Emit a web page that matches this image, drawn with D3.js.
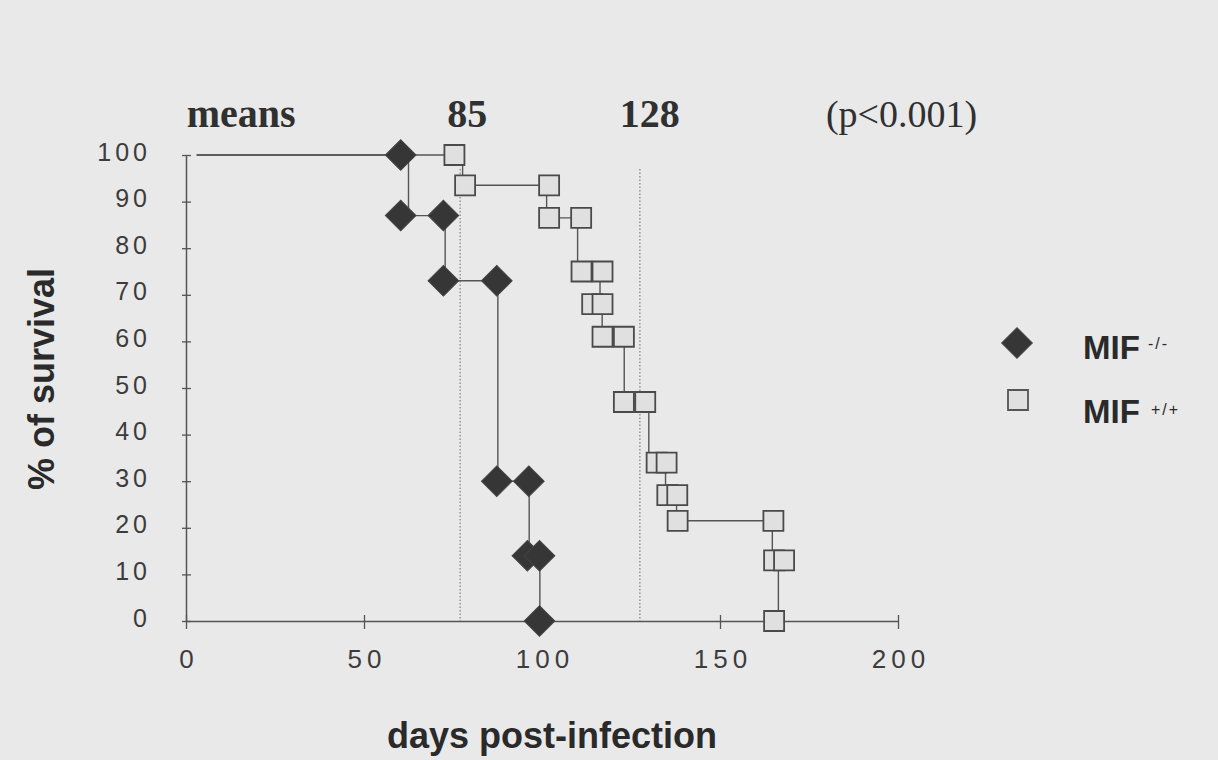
<!DOCTYPE html>
<html>
<head>
<meta charset="utf-8">
<script src="https://cdn.jsdelivr.net/npm/d3@7/dist/d3.min.js"></script>
<style>
  html, body { margin: 0; padding: 0; background: #e9e9e9; }
  svg { display: block; }
</style>
</head>
<body>
<svg id="chart" width="1218" height="760"></svg>
<script>
// ---------- data ----------
const xTicks = [0, 50, 100, 150, 200];
const yTicks = [0, 10, 20, 30, 40, 50, 60, 70, 80, 90, 100];

// MIF -/- (knock-out) : step curve vertices (day, % survival after step)
const koLineDays   = [3, 62.5, 72.8, 87.6, 96.4, 99.4];
const koLineValues = [100, 87, 73, 30, 14, 0];
// MIF -/- diamond markers
const koMarkDays   = [60.3, 60.3, 72.3, 72.3, 87.3, 87.3, 96.3, 95.9, 99.3, 99.3];
const koMarkValues = [100, 87, 87, 73, 73, 30, 30, 14, 14, 0];

// MIF +/+ (wild type) : step curve vertices
const wtLineDays   = [3, 77.7, 101.3, 110, 116.3, 116.9, 123.1, 130, 134.7, 137.8, 164.7, 166.4];
const wtLineValues = [100, 93.5, 86.5, 75, 68, 61, 47, 34, 27, 21.5, 13, 0];
// MIF +/+ square markers
const wtMarkDays   = [75.4, 78.4, 102, 102, 111, 111.1, 117, 114.1, 117, 117, 123, 123, 129, 132.2, 135, 135.2, 138, 138.1, 165, 165.2, 168, 165.2];
const wtMarkValues = [100, 93.5, 93.5, 86.5, 86.5, 75, 75, 68, 68, 61, 61, 47, 47, 34, 34, 27, 27, 21.5, 21.5, 13, 13, 0];

// dotted reference lines (day) and their top (% survival)
const meanLineDays = [77, 127.5];
const meanLineTop = 97;

// header texts
const headerTexts = ["means", "85", "128", "(p<0.001)"];
const legendNames = ["MIF", "MIF"];
const legendSups = ["-/-", "+/+"];
const xTitle = "days post-infection";
const yTitle = "% of survival";

// ---------- layout ----------
const svg = d3.select("#chart");
const x = d3.scaleLinear().domain([0, 200]).range([186, 898]);
const y = d3.scaleLinear().domain([0, 100]).range([621, 155]);

const axisColor = "#555";
const tickFont = "'Liberation Sans', Arial, sans-serif";

// y axis
const yAxisG = svg.append("g")
  .attr("transform", `translate(${x(0)},0)`)
  .call(d3.axisLeft(y).tickValues(yTicks).tickSizeOuter(0).tickSizeInner(4));
yAxisG.select(".domain").attr("stroke", axisColor).attr("stroke-width", 1.5);
yAxisG.selectAll(".tick line").attr("x1", -4).attr("x2", 5)
  .attr("stroke", axisColor).attr("stroke-width", 1.3);
yAxisG.selectAll(".tick text")
  .attr("x", -35).attr("dy", "0.2em")
  .attr("font-family", tickFont).attr("font-size", 25)
  .attr("letter-spacing", 4).attr("fill", "#3c3c3c");

// x axis
const xAxisG = svg.append("g")
  .attr("transform", `translate(0,${y(0)})`)
  .call(d3.axisBottom(x).tickValues(xTicks).tickSizeOuter(0).tickSizeInner(8));
xAxisG.select(".domain").attr("stroke", axisColor).attr("stroke-width", 1.5);
xAxisG.selectAll(".tick line").attr("y1", -6).attr("y2", 8)
  .attr("stroke", axisColor).attr("stroke-width", 1.3);
xAxisG.selectAll(".tick text")
  .attr("y", 29).attr("dy", "0.71em").attr("dx", 2.5)
  .attr("font-family", tickFont).attr("font-size", 26)
  .attr("letter-spacing", 5).attr("fill", "#3c3c3c");

// axis titles
svg.append("text")
  .attr("transform", `translate(54,${379}) rotate(-90)`)
  .attr("text-anchor", "middle")
  .attr("font-family", tickFont).attr("font-weight", "bold")
  .attr("font-size", 36).attr("fill", "#2a2a2a")
  .text(yTitle);
svg.append("text")
  .attr("x", 552).attr("y", 748)
  .attr("text-anchor", "middle")
  .attr("font-family", tickFont).attr("font-weight", "bold")
  .attr("font-size", 36).attr("fill", "#2a2a2a")
  .text(xTitle);

// header
const serif = "'Liberation Serif', 'Times New Roman', serif";
const headerPos = [
  {d: 0.2, anchor: "start", weight: "bold", size: 40},
  {d: 79, anchor: "middle", weight: "bold", size: 40},
  {d: 130.3, anchor: "middle", weight: "bold", size: 40},
  {d: 201, anchor: "middle", weight: "normal", size: 38}
];
svg.selectAll("text.header").data(headerTexts).join("text")
  .attr("class", "header")
  .attr("x", (t, i) => x(headerPos[i].d)).attr("y", 127)
  .attr("text-anchor", (t, i) => headerPos[i].anchor)
  .attr("font-family", serif)
  .attr("font-weight", (t, i) => headerPos[i].weight)
  .attr("font-size", (t, i) => headerPos[i].size)
  .attr("fill", "#303030")
  .text(t => t);

// dotted mean lines
svg.selectAll("line.mean").data(meanLineDays).join("line")
  .attr("class", "mean")
  .attr("x1", d => x(d)).attr("x2", d => x(d))
  .attr("y1", y(meanLineTop)).attr("y2", y(0))
  .attr("stroke", "#777").attr("stroke-width", 1.1)
  .attr("stroke-dasharray", "1.5,2");

// step lines
const stepLine = d3.line().x(d => x(d[0])).y(d => y(d[1])).curve(d3.curveStepAfter);
const wtLine = wtLineDays.map((d, i) => [d, wtLineValues[i]]);
const koLine = koLineDays.map((d, i) => [d, koLineValues[i]]);
svg.append("path").attr("d", stepLine(wtLine))
  .attr("fill", "none").attr("stroke", "#555").attr("stroke-width", 1.4);
svg.append("path").attr("d", stepLine(koLine))
  .attr("fill", "none").attr("stroke", "#555").attr("stroke-width", 1.4);

// markers
const squareSym = d3.symbol().type(d3.symbolSquare).size(400);
const diamondSym = d3.symbol().type(d3.symbolSquare).size(470);
const wtMarks = wtMarkDays.map((d, i) => [d, wtMarkValues[i]]);
const koMarks = koMarkDays.map((d, i) => [d, koMarkValues[i]]);

svg.selectAll("path.wt").data(wtMarks).join("path")
  .attr("class", "wt")
  .attr("d", squareSym)
  .attr("transform", d => `translate(${x(d[0])},${y(d[1])})`)
  .attr("fill", "#e0e0e0").attr("stroke", "#4a4a4a").attr("stroke-width", 1.8);

svg.selectAll("path.ko").data(koMarks).join("path")
  .attr("class", "ko")
  .attr("d", diamondSym)
  .attr("transform", d => `translate(${x(d[0])},${y(d[1])}) rotate(45)`)
  .attr("fill", "#363636").attr("stroke", "#444").attr("stroke-width", 1);

// legend
const legend = svg.append("g");
const legRows = [{cy: 343, base: 359, supBase: 349, supX: 1148}, {cy: 400, base: 423, supBase: 415, supX: 1151}];
legend.append("path").attr("d", diamondSym)
  .attr("transform", `translate(1017,${legRows[0].cy}) rotate(45)`)
  .attr("fill", "#363636").attr("stroke", "#444").attr("stroke-width", 1);
legend.append("path").attr("d", squareSym)
  .attr("transform", `translate(1018,${legRows[1].cy})`)
  .attr("fill", "#e0e0e0").attr("stroke", "#555").attr("stroke-width", 1.8);
legend.selectAll("text.name").data(legendNames).join("text")
  .attr("class", "name")
  .attr("x", 1083).attr("y", (d, i) => legRows[i].base)
  .attr("font-family", tickFont).attr("font-weight", "bold")
  .attr("font-size", 33).attr("fill", "#2a2a2a")
  .text(d => d);
legend.selectAll("text.sup").data(legendSups).join("text")
  .attr("class", "sup")
  .attr("x", (d, i) => legRows[i].supX).attr("y", (d, i) => legRows[i].supBase)
  .attr("font-family", tickFont)
  .attr("font-size", 16).attr("letter-spacing", 2).attr("fill", "#2a2a2a")
  .text(d => d);
</script>
</body>
</html>
